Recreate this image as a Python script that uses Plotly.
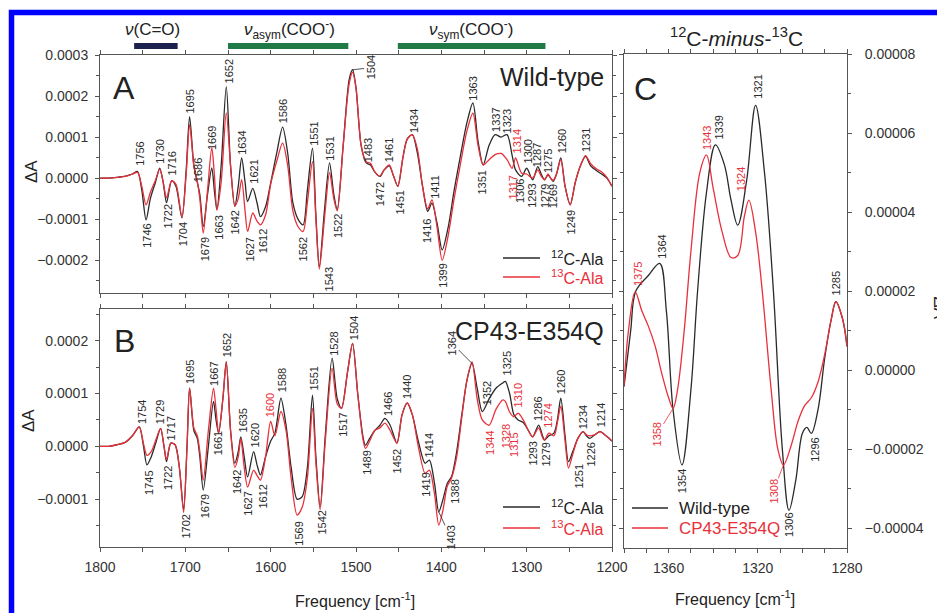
import plotly.graph_objects as go

# ---------------- data ----------------
# Panel A (Wild-type), values in units of 1e-4
freq_A = [1800, 1790, 1780, 1770, 1762, 1756, 1751, 1746, 1741, 1735, 1730, 1726, 1722, 1716, 1711,
          1704, 1699, 1695, 1690, 1686, 1683, 1679, 1674, 1669, 1666, 1663, 1658, 1652, 1647, 1642,
          1638, 1634, 1630, 1627, 1621, 1616, 1612, 1606, 1600, 1593, 1586, 1580, 1574, 1568, 1562,
          1557, 1551, 1547, 1543, 1537, 1531, 1526, 1522, 1515, 1508, 1504, 1500, 1494, 1488, 1483,
          1478, 1472, 1467, 1461, 1456, 1451, 1445, 1440, 1434, 1428, 1422, 1416, 1411, 1405, 1399,
          1392, 1385, 1378, 1370, 1363, 1357, 1351, 1344, 1337, 1330, 1323, 1317, 1313, 1306, 1300,
          1293, 1287, 1283, 1279, 1275, 1272, 1269, 1265, 1260, 1255, 1249, 1243, 1237, 1231, 1225,
          1218, 1212, 1206, 1200]
A_12C = [0.0, 0.0, 0.02, 0.05, 0.1, 0.16, -0.3, -1.02, -0.5, -0.1, 0.24, -0.1, -0.6, -0.06, -0.2,
         -0.97, 0.2, 1.5, 0.3, -0.1, -0.4, -1.18, -0.4, 0.25, -0.3, -0.77, 0.3, 2.23, 0.3, -0.69,
         -0.2, 0.49, -0.1, -0.57, -0.25, -0.6, -0.94, -0.7, -0.12, 0.6, 1.24, 0.6, -0.6, -1.0, -1.14,
         -0.3, 0.73, -0.9, -2.16, -0.8, 0.37, -0.4, -0.77, 0.8, 2.4, 2.64, 2.2, 0.8, 0.37, 0.32,
         0.15, 0.04, 0.2, 0.3, 0.05, -0.2, 0.5, 0.95, 1.06, 0.6, -0.2, -0.81, -0.61, -1.1, -1.75,
         -1.2, -0.3, 0.5, 1.35, 1.83, 0.9, 0.32, 0.8, 1.06, 1.0, 1.06, 0.55, 0.2, 0.04, 0.24,
         -0.04, 0.28, 0.1, -0.04, 0.08, 0.0, -0.08, 0.1, 0.49, -0.2, -0.65, -0.1, 0.3, 0.53, 0.3,
         0.18, 0.1, 0.0, -0.2]
A_13C = [0.0, 0.0, 0.02, 0.04, 0.1, 0.14, -0.2, -0.65, -0.35, -0.05, 0.22, -0.1, -0.48, -0.06, -0.15,
         -0.95, 0.1, 1.3, 0.3, -0.08, -0.5, -1.34, -0.3, 0.74, 0.1, -0.78, -0.1, 1.59, 0.3, -0.68,
         -0.5, -0.04, -0.8, -1.3, -0.85, -1.05, -1.14, -0.9, -0.15, 0.4, 0.85, 0.3, -0.8, -1.18, -1.3,
         -0.6, 0.4, -1.0, -2.22, -1.0, 0.13, -0.5, -0.8, 0.8, 2.3, 2.58, 2.2, 0.8, 0.4, 0.36,
         0.15, 0.05, 0.2, 0.32, 0.05, -0.2, 0.5, 0.95, 1.06, 0.7, -0.2, -0.75, -0.53, -1.2, -2.0,
         -1.4, -0.5, 0.3, 1.15, 1.58, 0.8, 0.32, 0.45, 0.57, 0.6, 0.45, 0.24, 0.49, 0.12, 0.1,
         0.0, 0.2, 0.05, -0.04, 0.1, 0.0, -0.05, 0.1, 0.45, -0.2, -0.65, -0.1, 0.3, 0.55, 0.35,
         0.22, 0.15, 0.02, -0.2]

# Panel B (CP43-E354Q), values in units of 1e-4
freq_B = [1800, 1790, 1780, 1770, 1762, 1754, 1749, 1745, 1740, 1734, 1729, 1725, 1722, 1717, 1712,
          1707, 1702, 1698, 1695, 1690, 1686, 1683, 1679, 1673, 1667, 1664, 1661, 1656, 1652, 1647,
          1642, 1638, 1635, 1631, 1627, 1620, 1616, 1612, 1606, 1600, 1595, 1588, 1582, 1576, 1569,
          1563, 1557, 1551, 1547, 1542, 1536, 1528, 1522, 1517, 1510, 1504, 1498, 1492, 1489, 1484,
          1478, 1472, 1466, 1460, 1452, 1446, 1440, 1434, 1427, 1419, 1414, 1408, 1403, 1398, 1393,
          1388, 1382, 1376, 1370, 1364, 1358, 1352, 1344, 1336, 1328, 1325, 1320, 1315, 1310, 1304,
          1298, 1293, 1286, 1281, 1279, 1274, 1268, 1264, 1260, 1255, 1251, 1246, 1240, 1234, 1230,
          1226, 1220, 1214, 1207, 1200]
B_12C = [0.0, 0.0, 0.03, 0.08, 0.2, 0.37, 0.0, -0.35, -0.2, 0.1, 0.34, 0.0, -0.29, 0.06, 0.03,
         -0.4, -1.2, 0.0, 1.1, 0.3, 0.15, -0.2, -0.83, 0.0, 0.85, 0.5, 0.25, 0.9, 1.6, 0.3,
         -0.32, -0.1, 0.18, -0.2, -0.58, -0.1, -0.35, -0.54, -0.2, 0.1, 0.25, 0.91, 0.4, -0.4, -1.0,
         -0.95, -0.4, 0.97, -0.2, -1.15, 0.2, 1.67, 0.9, 0.72, 1.4, 1.95, 1.0, 0.2, 0.02, 0.15,
         0.3, 0.4, 0.53, 0.4, 0.06, 0.6, 0.82, 0.6, 0.1, -0.32, -0.26, -0.7, -1.24, -1.0, -0.7,
         -0.57, -0.1, 0.6, 1.25, 1.57, 1.1, 0.66, 0.9, 1.1, 1.2, 1.23, 1.0, 0.6, 0.5, 0.45,
         0.3, 0.18, 0.4, 0.18, 0.12, 0.2, 0.25, 0.5, 0.91, 0.2, -0.29, -0.1, 0.15, 0.28, 0.2,
         0.15, 0.22, 0.28, 0.2, 0.1]
B_13C = [0.0, 0.0, 0.03, 0.08, 0.2, 0.37, 0.05, -0.17, -0.1, 0.15, 0.34, 0.0, -0.25, 0.06, 0.03,
         -0.4, -1.25, 0.0, 1.1, 0.35, 0.2, -0.1, -0.64, 0.3, 1.1, 0.7, 0.25, 0.9, 1.6, 0.3,
         -0.4, -0.2, 0.15, -0.4, -0.77, -0.45, -0.55, -0.64, -0.2, 0.47, 0.2, 0.66, 0.3, -0.6, -1.3,
         -1.15, -0.6, 0.72, -0.3, -1.2, 0.1, 1.48, 0.8, 0.72, 1.4, 1.95, 1.0, 0.15, -0.04, 0.1,
         0.3, 0.35, 0.44, 0.3, 0.06, 0.6, 0.82, 0.6, 0.0, -0.51, -0.45, -0.9, -1.49, -1.2, -0.75,
         -0.6, -0.2, 0.55, 1.25, 1.6, 0.9, 0.5, 0.4, 0.7, 0.88, 0.85, 0.65, 0.56, 0.63, 0.5,
         0.3, 0.18, 0.35, 0.15, 0.12, 0.25, 0.2, 0.45, 0.76, 0.1, -0.41, -0.15, 0.15, 0.28, 0.22,
         0.2, 0.22, 0.28, 0.2, 0.1]

# Panel C (12C-minus-13C), values in units of 1e-5
freq_C_wt = [1380, 1377, 1374.7, 1369, 1364, 1361, 1358, 1354, 1350, 1347, 1343, 1339, 1335, 1332,
             1329, 1325, 1321, 1317, 1313, 1309, 1306, 1303, 1300, 1298, 1296, 1293, 1290, 1287,
             1285, 1282, 1280]
C_wt = [-0.42, 1.0, 2.0, 2.4, 2.7, 1.5, -1.0, -2.4, -0.5, 2.0, 4.5, 5.7, 5.2, 4.3,
        3.67, 4.8, 6.7, 5.0, 2.0, -2.0, -3.55, -2.8, -1.6, -1.45, -1.6, -1.0, 0.3, 1.3,
        1.73, 1.3, 0.6]
freq_C_mut = [1380, 1378, 1375, 1372, 1369, 1366, 1363, 1360, 1358, 1356, 1353, 1350, 1346, 1343,
              1340, 1336, 1332, 1329, 1326, 1324, 1321, 1318, 1314, 1311, 1308.5, 1305, 1302, 1299,
              1296, 1293, 1290, 1287, 1285, 1282, 1280]
C_mut = [-0.4, 1.0, 1.98, 1.5, 1.1, 0.6, -0.1, -0.7, -0.97, -0.5, 1.0, 3.0, 5.0, 5.44,
         4.6, 3.5, 2.85, 2.9, 3.9, 4.3, 3.5, 2.0, -0.5, -2.0, -2.4, -1.9, -1.3, -0.9,
         -0.7, -0.3, 0.4, 1.3, 1.73, 1.3, 0.6]

# Peak labels: (text, freq, dA of label end, side 'a'=above/'b'=below, colour key)
labels_A = [("1756", 1754, 0.28e-4, "a", "k"), ("1730", 1730, 0.32e-4, "a", "k"), ("1716", 1716, 0.03e-4, "a", "k"),
            ("1746", 1745, -1.09e-4, "b", "k"), ("1722", 1720, -0.61e-4, "b", "k"), ("1704", 1703, -1.06e-4, "b", "k"),
            ("1695", 1695, 1.54e-4, "a", "k"), ("1686", 1685, -0.12e-4, "a", "k"), ("1669", 1668, 0.65e-4, "a", "k"),
            ("1679", 1677, -1.42e-4, "b", "k"), ("1663", 1661, -0.9e-4, "b", "k"), ("1652", 1649, 2.28e-4, "a", "k"),
            ("1634", 1633, 0.53e-4, "a", "k"), ("1621", 1619.5, -0.16e-4, "a", "k"), ("1642", 1642, -0.77e-4, "b", "k"),
            ("1627", 1624, -1.42e-4, "b", "k"), ("1612", 1609, -1.22e-4, "b", "k"), ("1586", 1586, 1.3e-4, "a", "k"),
            ("1562", 1562, -1.42e-4, "b", "k"), ("1551", 1550, 0.77e-4, "a", "k"), ("1543", 1532, -2.16e-4, "b", "k"),
            ("1531", 1530.5, 0.4e-4, "a", "k"), ("1522", 1521, -0.85e-4, "b", "k"),
            ("1483", 1485.5, 0.37e-4, "a", "k"), ("1461", 1461, 0.37e-4, "a", "k"), ("1472", 1472, -0.08e-4, "b", "k"),
            ("1451", 1449, -0.29e-4, "b", "k"), ("1434", 1432.6, 1.06e-4, "a", "k"), ("1411", 1407.4, -0.53e-4, "a", "k"),
            ("1416", 1416, -0.98e-4, "b", "k"), ("1399", 1398.5, -2.07e-4, "b", "k"), ("1363", 1362.5, 1.87e-4, "a", "k"),
            ("1351", 1352.7, 0.2e-4, "b", "k"), ("1337", 1336, 1.1e-4, "a", "k"), ("1323", 1323.3, 1.06e-4, "a", "k"),
            ("1314", 1311.7, 0.57e-4, "a", "r"), ("1317", 1316.4, 0.08e-4, "b", "r"), ("1306", 1307.8, 0.0, "b", "k"),
            ("1300", 1299, 0.32e-4, "a", "k"), ("1293", 1294, -0.12e-4, "b", "k"), ("1287", 1288, 0.24e-4, "a", "k"),
            ("1275", 1275, 0.1e-4, "a", "k"), ("1279", 1278.5, -0.12e-4, "b", "k"), ("1269", 1268.8, -0.12e-4, "b", "k"),
            ("1260", 1259, 0.57e-4, "a", "k"), ("1249", 1248.4, -0.77e-4, "b", "k"), ("1231", 1230.5, 0.61e-4, "a", "k")]
labels_B = [("1754", 1751, 0.4e-4, "a", "k"), ("1729", 1729.7, 0.4e-4, "a", "k"), ("1717", 1717, 0.09e-4, "a", "k"),
            ("1745", 1743.4, -0.44e-4, "b", "k"), ("1722", 1720, -0.35e-4, "b", "k"), ("1702", 1699, -1.27e-4, "b", "k"),
            ("1695", 1694.5, 1.16e-4, "a", "k"), ("1667", 1667.2, 1.13e-4, "a", "k"), ("1679", 1677, -0.89e-4, "b", "k"),
            ("1661", 1661.3, 0.31e-4, "b", "k"), ("1652", 1651, 1.67e-4, "a", "k"), ("1635", 1632, 0.25e-4, "a", "k"),
            ("1620", 1618.4, -0.04e-4, "a", "k"), ("1642", 1640, -0.44e-4, "b", "k"), ("1627", 1626, -0.83e-4, "b", "k"),
            ("1612", 1608.7, -0.7e-4, "b", "k"), ("1600", 1600.8, 0.53e-4, "a", "r"), ("1588", 1587, 1.0e-4, "a", "k"),
            ("1569", 1566.4, -1.4e-4, "b", "k"), ("1551", 1549, 1.04e-4, "a", "k"), ("1542", 1540, -1.2e-4, "b", "k"),
            ("1528", 1526.6, 1.7e-4, "a", "k"), ("1517", 1514.9, 0.66e-4, "b", "k"), ("1504", 1503, 2.0e-4, "a", "k"),
            ("1489", 1487.5, -0.07e-4, "b", "k"), ("1466", 1463.3, 0.56e-4, "a", "k"), ("1440", 1440, 0.88e-4, "a", "k"),
            ("1452", 1452, -0.04e-4, "b", "k"), ("1414", 1413.3, -0.23e-4, "a", "k"), ("1419", 1418, -0.48e-4, "b", "k"),
            ("1388", 1385, -0.61e-4, "b", "k"), ("1352", 1347, 0.75e-4, "a", "k"), ("1325", 1323.3, 1.32e-4, "a", "k"),
            ("1310", 1310, 0.72e-4, "a", "r"), ("1344", 1343, 0.31e-4, "b", "r"), ("1328", 1324, 0.44e-4, "b", "r"),
            ("1315", 1315.6, 0.28e-4, "b", "r"), ("1293", 1292, 0.12e-4, "b", "k"), ("1286", 1287.4, 0.47e-4, "a", "k"),
            ("1274", 1274.6, 0.34e-4, "a", "r"), ("1279", 1277.4, 0.09e-4, "b", "k"), ("1260", 1259.7, 0.97e-4, "a", "k"),
            ("1251", 1238.4, -0.32e-4, "b", "k"), ("1234", 1233.6, 0.31e-4, "a", "k"), ("1226", 1224.7, 0.09e-4, "b", "k"),
            ("1214", 1212, 0.34e-4, "a", "k")]
labels_C = [("1321", 1320, 6.84e-5, "a", "k"), ("1339", 1337.2, 5.82e-5, "a", "k"), ("1343", 1343, 5.53e-5, "a", "r"),
            ("1324", 1327.4, 4.51e-5, "a", "r"), ("1364", 1362.7, 2.78e-5, "a", "k"), ("1375", 1374, 2.11e-5, "a", "r"),
            ("1285", 1285, 1.86e-5, "a", "k"), ("1354", 1353.7, -2.49e-5, "b", "k"), ("1306", 1306, -3.59e-5, "b", "k"),
            ("1296", 1294.4, -1.69e-5, "b", "k")]
# labels with a leader line: (text, peak freq, peak dA, x offset px, y offset px, colour key, axis)
leader_labels = [("1504", 1504, 2.64e-4, 18, -2, "k", 1), ("1364", 1364, 1.57e-4, -20, -20, "k", 2),
                 ("1403", 1403, -1.24e-4, 12, 26, "k", 2), ("1358", 1358, -0.97e-5, -16, 26, "r", 3),
                 ("1308", 1308.5, -2.4e-5, -10, 26, "r", 3)]

# ---------------- styling ----------------
W, H = 937, 613
BLACK = "#2a2a2a"
RED = "#e8303a"
COL = {"k": BLACK, "r": RED}
FONT = "Liberation Sans, Arial, sans-serif"

def px(x):
    return x / W

def py(y):
    return 1 - y / H

fig = go.Figure()
fig.add_trace(go.Scatter(x=freq_A, y=[v * 1e-4 for v in A_12C], mode="lines", line=dict(color=BLACK, width=1.3, shape="spline", smoothing=0.8), xaxis="x", yaxis="y", showlegend=False))
fig.add_trace(go.Scatter(x=freq_A, y=[v * 1e-4 for v in A_13C], mode="lines", line=dict(color=RED, width=1.3, shape="spline", smoothing=0.8), xaxis="x", yaxis="y", showlegend=False))
fig.add_trace(go.Scatter(x=freq_B, y=[v * 1e-4 for v in B_12C], mode="lines", line=dict(color=BLACK, width=1.3, shape="spline", smoothing=0.8), xaxis="x2", yaxis="y2", showlegend=False))
fig.add_trace(go.Scatter(x=freq_B, y=[v * 1e-4 for v in B_13C], mode="lines", line=dict(color=RED, width=1.3, shape="spline", smoothing=0.8), xaxis="x2", yaxis="y2", showlegend=False))
fig.add_trace(go.Scatter(x=freq_C_wt, y=[v * 1e-5 for v in C_wt], mode="lines", line=dict(color=BLACK, width=1.3, shape="spline", smoothing=1.0), xaxis="x3", yaxis="y3", showlegend=False))
fig.add_trace(go.Scatter(x=freq_C_mut, y=[v * 1e-5 for v in C_mut], mode="lines", line=dict(color=RED, width=1.3, shape="spline", smoothing=1.0), xaxis="x3", yaxis="y3", showlegend=False))

axcommon = dict(showline=True, linecolor="#555", linewidth=1, mirror="ticks", ticks="outside",
                ticklen=4, tickcolor="#555", tickwidth=1, showgrid=False, zeroline=False, automargin=False,
                tickfont=dict(family=FONT, size=14, color="#333"))
xdomAB = [px(100), px(612)]
fig.update_layout(
    width=W, height=H, autosize=False, margin=dict(l=0, r=0, t=0, b=0, pad=0),
    paper_bgcolor="white", plot_bgcolor="white",
    xaxis=dict(domain=xdomAB, anchor="y", range=[1800, 1200], dtick=100, showticklabels=False,
               minor=dict(dtick=50, ticklen=4, tickcolor="#555", ticks="outside"), **axcommon),
    yaxis=dict(domain=[py(293), py(55)], anchor="x", range=[-0.00028, 0.0003], dtick=0.0001, tickformat=".4f",
               ticklabelstandoff=4, minor=dict(dtick=0.00005, ticklen=3, tickcolor="#555", ticks="outside"), **axcommon),
    xaxis2=dict(domain=xdomAB, anchor="y2", range=[1800, 1200], dtick=100, ticklabelstandoff=3,
                minor=dict(dtick=50, ticklen=4, tickcolor="#555", ticks="outside"), **axcommon),
    yaxis2=dict(domain=[py(546.7), py(309)], anchor="x2", range=[-0.00019, 0.00026], dtick=0.0001, tickformat=".4f",
                ticklabelstandoff=4, minor=dict(dtick=0.00005, ticklen=3, tickcolor="#555", ticks="outside"), **axcommon),
    xaxis3=dict(domain=[px(624), px(847)], anchor="y3", range=[1380, 1280], dtick=40, tick0=1280, ticklabelstandoff=3,
                minor=dict(dtick=10, ticklen=4, tickcolor="#555", ticks="outside"), **axcommon),
    yaxis3=dict(domain=[py(548.3), py(54)], anchor="x3", side="right", range=[-0.0000451, 0.00008], dtick=0.00002,
                tickformat=".5f", ticklabelstandoff=10,
                minor=dict(dtick=0.00001, ticklen=3, tickcolor="#555", ticks="outside"), **axcommon),
)

annotations = []
shapes = []

def add_labels(lbls, xr, yr):
    for text, fx, fy, side, c in lbls:
        annotations.append(dict(text=text, x=fx, y=fy, xref=xr, yref=yr, textangle=-90, showarrow=False,
                                xanchor="center", yanchor="bottom" if side == "a" else "top",
                                font=dict(family=FONT, size=11, color=COL[c]), borderpad=0))

add_labels(labels_A, "x", "y")
add_labels(labels_B, "x2", "y2")
add_labels(labels_C, "x3", "y3")
for text, fx, fy, dx, dy, c, ax in leader_labels:
    sfx = "" if ax == 1 else str(ax)
    annotations.append(dict(text=text, x=fx, y=fy, xref="x" + sfx, yref="y" + sfx, textangle=-90,
                            showarrow=True, arrowhead=0, arrowwidth=0.8, arrowcolor=COL[c], ax=dx, ay=dy,
                            font=dict(family=FONT, size=11, color=COL[c]), borderpad=0, standoff=0))

def txt(text, x, y, size, color="#222", xanchor="center", yanchor="middle", angle=0):
    annotations.append(dict(text=text, x=px(x), y=py(y), xref="paper", yref="paper", showarrow=False,
                            xanchor=xanchor, yanchor=yanchor, textangle=angle,
                            font=dict(family=FONT, size=size, color=color)))

# panel letters and titles
txt("A", 124, 88, 32)
txt("B", 124, 341, 32)
txt("C", 645, 89, 32)
txt("Wild-type", 606, 77, 25, xanchor="right")
txt("CP43-E354Q", 606, 331, 25, xanchor="right")
txt("<sup>12</sup>C-<i>minus</i>-<sup>13</sup>C", 736, 37, 21)
txt("ΔA", 31, 172, 17, angle=-90)
txt("ΔA", 28, 421, 17, angle=-90)
txt("ΔA", 928, 308, 17, xanchor="left", angle=90)
txt("Frequency [cm<sup>-1</sup>]", 355, 600, 16)
txt("Frequency [cm<sup>-1</sup>]", 735, 598, 16)

# band-assignment header
txt("<i>ν</i>(C=O)", 152, 30, 17)
txt("<i>ν</i><sub>asym</sub>(COO<sup>-</sup>)", 289, 30, 17)
txt("<i>ν</i><sub>sym</sub>(COO<sup>-</sup>)", 471, 30, 17)
bands = [(1760, 1709, "#1c2150"), (1650, 1509, "#1f7a45"), (1451, 1278, "#1f7a45")]
for b0, b1, c in bands:
    shapes.append(dict(type="rect", xref="x", yref="paper", x0=b0, x1=b1, y0=py(49), y1=py(43),
                       fillcolor=c, line=dict(width=0)))

# legends (manual)
def legend(x_line0, x_line1, y1, y2, t1, t2, size):
    shapes.append(dict(type="line", xref="paper", yref="paper", x0=px(x_line0), x1=px(x_line1), y0=py(y1), y1=py(y1),
                       line=dict(color=BLACK, width=1.3)))
    shapes.append(dict(type="line", xref="paper", yref="paper", x0=px(x_line0), x1=px(x_line1), y0=py(y2), y1=py(y2),
                       line=dict(color=RED, width=1.3)))
    txt(t1, x_line1 + 9, y1, size, color="#222", xanchor="left")
    txt(t2, x_line1 + 9, y2, size, color=RED, xanchor="left")

legend(503, 540, 258, 277, "<sup>12</sup>C-Ala", "<sup>13</sup>C-Ala", 16)
legend(503, 540, 507, 528, "<sup>12</sup>C-Ala", "<sup>13</sup>C-Ala", 16)
legend(632, 668, 508, 528, "Wild-type", "CP43-E354Q", 17)

# blue frame
shapes.append(dict(type="rect", xref="paper", yref="paper", x0=px(11.5), x1=1.2, y0=-0.2, y1=py(12.5),
                   line=dict(color="#0000ff", width=5.5), fillcolor="rgba(0,0,0,0)"))

fig.update_layout(annotations=annotations, shapes=shapes)
fig.write_html("out.html", post_script="document.body.style.margin='0';document.body.style.overflow='hidden';")
